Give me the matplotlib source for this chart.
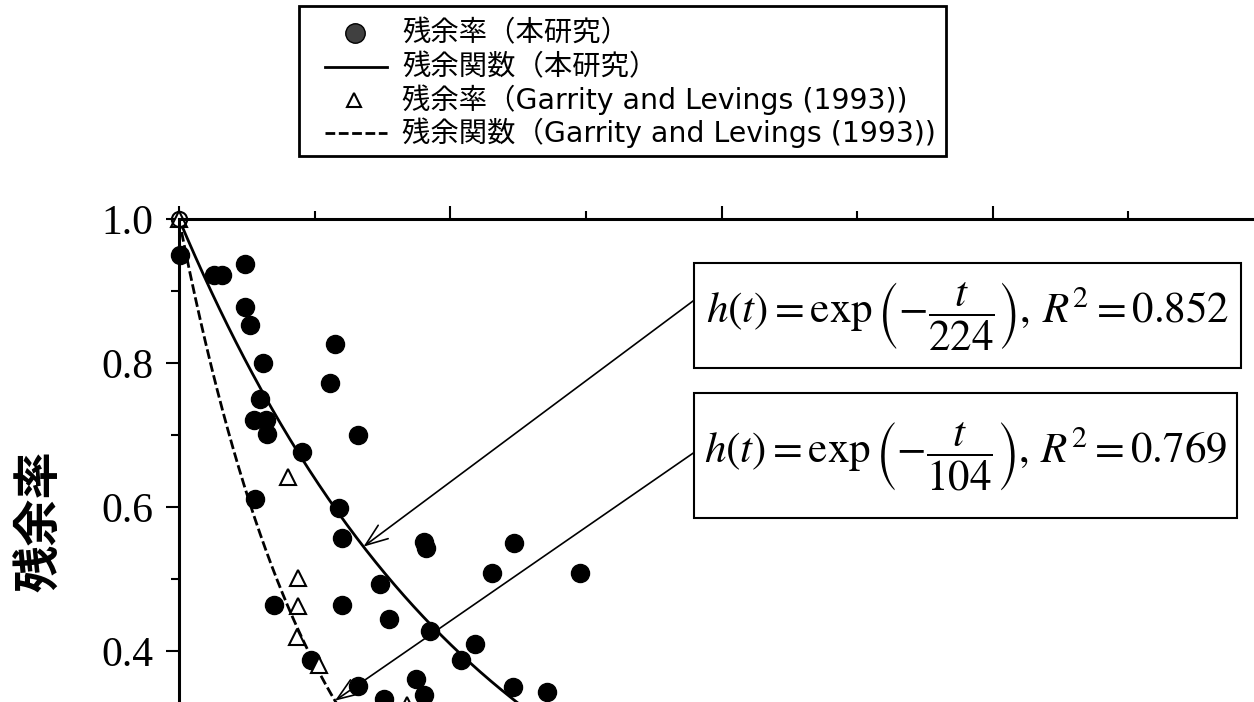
import numpy as np
import matplotlib
matplotlib.use("Agg")
import matplotlib.pyplot as plt
from matplotlib.lines import Line2D
from matplotlib.patches import Rectangle
from matplotlib.ticker import MultipleLocator, FormatStrFormatter

plt.rcParams["mathtext.fontset"] = "stix"

# measured residual rates (this study)
study_t = [1, 26, 32, 49, 49, 52, 115, 62, 111, 60, 55, 64, 65, 132, 91,
           56, 118, 120, 148, 70, 120, 155, 97, 132, 151, 181, 182, 247,
           231, 296, 185, 218, 208, 175, 181, 246, 271]
study_h = [0.95, 0.922, 0.922, 0.937, 0.878, 0.853, 0.827, 0.80, 0.772, 0.75,
           0.721, 0.721, 0.702, 0.70, 0.677, 0.611, 0.598, 0.557, 0.493, 0.464,
           0.464, 0.444, 0.388, 0.351, 0.334, 0.551, 0.543, 0.55, 0.508, 0.508,
           0.428, 0.41, 0.388, 0.361, 0.339, 0.35, 0.343]

# Garrity and Levings (1993)
garrity_t = [0, 80, 88, 88, 87, 103, 168]
garrity_h = [1.0, 0.642, 0.501, 0.462, 0.42, 0.38, 0.325]

# fitted time constants and R^2
tau_study, r2_study = 224, 0.852
tau_garrity, r2_garrity = 104, 0.769

legend_labels = ["残余率（本研究）", "残余関数（本研究）",
                 "残余率（Garrity and Levings (1993))",
                 "残余関数（Garrity and Levings (1993))"]

W, H = 1254, 702


def fx(px):
    return px / W


def fy(py):
    return 1 - py / H


fig = plt.figure(figsize=(W / 100, H / 100), dpi=100)
# axes run past the lower edge of the figure, only the top part is shown
ax = fig.add_axes([fx(179), fy(219 + 504), 1085 / W, 504 / H])
ax.set_xlim(0, 800)
ax.set_ylim(0.3, 1.0)

t = np.linspace(0, 800, 801)
ax.plot(t, np.exp(-t / tau_study), color="black", lw=2.0)
ax.plot(t, np.exp(-t / tau_garrity), color="black", lw=2.0, dashes=(3.5, 1.3))

ax.plot(study_t, study_h, "o", ms=13, color="black", clip_on=False)
ax.plot(garrity_t, garrity_h, "^", ms=12, mfc="white", mec="black", mew=1.5,
        clip_on=False)
ax.plot([0], [1.0], "o", ms=11, mfc="none", mec="black", mew=1.5, clip_on=False)

for side in ["right", "bottom"]:
    ax.spines[side].set_visible(False)
for side in ["left", "top"]:
    ax.spines[side].set_linewidth(2.2)

ax.xaxis.set_ticks_position("top")
ax.xaxis.set_major_locator(MultipleLocator(200))
ax.xaxis.set_minor_locator(MultipleLocator(100))
ax.tick_params(axis="x", which="major", length=9.5, width=1.5, labeltop=False,
               direction="out")
ax.tick_params(axis="x", which="minor", length=5.5, width=1.5, direction="out")

ax.yaxis.set_minor_locator(MultipleLocator(0.1))
ax.set_yticks([0.4, 0.6, 0.8, 1.0])
ax.yaxis.set_major_formatter(FormatStrFormatter("%.1f"))
ax.tick_params(axis="y", which="major", length=9.5, width=1.5, pad=9,
               labelsize=30)
ax.tick_params(axis="y", which="minor", length=6, width=1.5)
for lab in ax.get_yticklabels():
    lab.set_family("Liberation Serif")

fig.text(fx(40), fy(521), "残余率", rotation=90, ha="center", va="center",
         fontsize=34, fontweight="bold", family=["Noto Sans CJK JP"])

# fitted equations in framed boxes, arrows point at their curves
eq_fmt = r"$h\left(t\right)=\exp\left(-\dfrac{t}{%d}\right),\,R^{2}=%.3f$"
eq_boxes = [(694, 263, 1241, 368, tau_study, r2_study),
            (694, 393, 1237, 518, tau_garrity, r2_garrity)]
for x0, y0, x1, y1, tau, r2 in eq_boxes:
    fig.patches.append(Rectangle((fx(x0), fy(y1)), (x1 - x0) / W, (y1 - y0) / H,
                                 transform=fig.transFigure, fc="white",
                                 ec="black", lw=1.5))
    fig.text(fx((x0 + x1) / 2), fy((y0 + y1) / 2), eq_fmt % (tau, r2),
             ha="center", va="center", fontsize=31)

arrow = dict(arrowstyle="->,head_length=1.6,head_width=0.6", color="black",
             lw=1.2, shrinkA=0, shrinkB=0)
ax.annotate("", xy=(136, np.exp(-136 / tau_study)), xytext=(380, 0.8875),
            arrowprops=arrow)
ax.annotate("", xy=(115, np.exp(-115 / tau_garrity)), xytext=(380, 0.676),
            arrowprops=arrow)

# legend box
fig.patches.append(Rectangle((fx(299), fy(156)), 647 / W, 150 / H,
                             transform=fig.transFigure, fc="white",
                             ec="black", lw=2.0))
row_y = [33, 67, 100, 133]
fig.add_artist(Line2D([fx(355)], [fy(row_y[0])], ls="none", marker="o", ms=14,
                      mfc="#404040", mec="black"))
fig.add_artist(Line2D([fx(325), fx(387)], [fy(row_y[1])] * 2, color="black",
                      lw=2))
fig.add_artist(Line2D([fx(354)], [fy(row_y[2])], ls="none", marker="^", ms=10,
                      mfc="white", mec="black", mew=1.5))
fig.add_artist(Line2D([fx(325), fx(387)], [fy(row_y[3])] * 2, color="black",
                      lw=2, dashes=(3.5, 1.3)))
for ry, label in zip(row_y, legend_labels):
    fig.text(fx(402), fy(ry), label, ha="left", va="center", fontsize=20.4,
             family=["DejaVu Sans", "Noto Sans CJK JP"])

fig.savefig("out.png", dpi=100)
